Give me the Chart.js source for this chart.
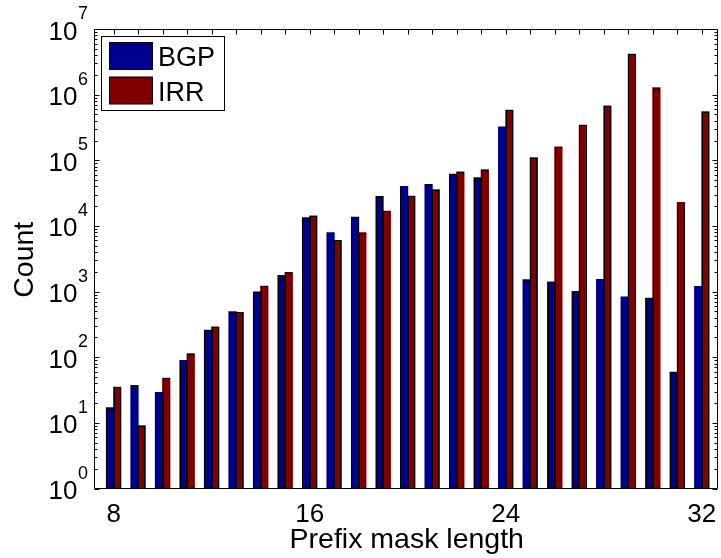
<!DOCTYPE html>
<html><head><meta charset="utf-8">
<script src="https://cdn.jsdelivr.net/npm/chart.js@4/dist/chart.umd.min.js"></script>
<style>html,body{margin:0;padding:0;background:#fff;}#wrap{width:721px;height:558px;}</style>
</head><body><div id="wrap"><canvas id="c" width="721" height="558"></canvas></div>
<script>
const prefixLengths = [8,9,10,11,12,13,14,15,16,17,18,19,20,21,22,23,24,25,26,27,28,29,30,31,32];
const bgpCounts = [17,37,29,89,258,492,988,1750,13300,7900,13500,28100,39800,42900,61500,54300,322000,1510,1400,1000,1530,830,790,59,1190];
const irrCounts = [35,9,48,113,288,480,1210,1960,14200,6000,7900,16700,28400,35600,66300,71500,578000,109000,160000,343000,671000,4130000,1270000,22700,551000];
const xTickLabels = [8,16,24,32];
const yDecades = [0,1,2,3,4,5,6,7];
const seriesNames = ['BGP','IRR'];
const seriesColors = ['#00008f','#800000'];
const xTitle = 'Prefix mask length';
const yTitle = 'Count';

const FONT = '"Liberation Sans", Arial, Helvetica, sans-serif';

const axesPlugin = {
  id: 'matlabAxes',
  afterDatasetsDraw(chart) {
    const ctx = chart.ctx;
    const xs = chart.scales.x, ys = chart.scales.y;
    const a = chart.chartArea;
    const L = Math.round(a.left) + 0.5, R = Math.round(a.right) - 0.5;
    const T = Math.round(a.top) + 0.5, B = Math.round(a.bottom) - 0.5;
    ctx.save();
    ctx.strokeStyle = '#000';
    ctx.lineWidth = 1;
    // crisp bar outlines, from the library's own bar elements
    ctx.beginPath();
    chart.data.datasets.forEach((ds, di) => {
      chart.getDatasetMeta(di).data.forEach(el => {
        const p = el.getProps(['x', 'y', 'width'], true);
        const l = Math.round(p.x - p.width / 2) + 0.5;
        const r = Math.round(p.x + p.width / 2) - 0.5;
        const t = Math.round(p.y) + 0.5;
        ctx.moveTo(l, B); ctx.lineTo(l, t); ctx.lineTo(r, t); ctx.lineTo(r, B);
      });
    });
    ctx.stroke();
    // axes box
    ctx.beginPath();
    ctx.rect(L, T, R - L, B - T);
    ctx.stroke();
    ctx.beginPath();
    prefixLengths.forEach(v => {
      const px = Math.round(xs.getPixelForValue(v)) + 0.5;
      ctx.moveTo(px, B); ctx.lineTo(px, B - 5);
      ctx.moveTo(px, T); ctx.lineTo(px, T + 5);
    });
    yDecades.forEach(d => {
      const py = Math.round(ys.getPixelForValue(Math.pow(10, d))) + 0.5;
      ctx.moveTo(L, py); ctx.lineTo(L + 5, py);
      ctx.moveTo(R, py); ctx.lineTo(R - 5, py);
      if (d < 7) {
        for (let m = 2; m <= 9; m++) {
          const pm = Math.round(ys.getPixelForValue(m * Math.pow(10, d))) + 0.5;
          ctx.moveTo(L, pm); ctx.lineTo(L + 3, pm);
          ctx.moveTo(R, pm); ctx.lineTo(R - 3, pm);
        }
      }
    });
    ctx.stroke();

    ctx.fillStyle = '#000';
    ctx.font = '26px ' + FONT;
    ctx.textAlign = 'center';
    ctx.textBaseline = 'alphabetic';
    xTickLabels.forEach(v => {
      ctx.fillText(String(v), xs.getPixelForValue(v), a.bottom + 33);
    });
    yDecades.forEach(d => {
      const py = ys.getPixelForValue(Math.pow(10, d));
      ctx.font = '26px ' + FONT;
      ctx.textAlign = 'right';
      ctx.fillText('10', a.left - 16.5, py + 10.5);
      ctx.font = '18px ' + FONT;
      ctx.textAlign = 'left';
      ctx.fillText(String(d), a.left - 16, py - 10);
    });
    ctx.font = '28.5px ' + FONT;
    ctx.textAlign = 'center';
    ctx.fillText(xTitle, (a.left + a.right) / 2 + 1, a.bottom + 59);
    ctx.save();
    ctx.translate(33, (a.top + a.bottom) / 2 + 1);
    ctx.rotate(-Math.PI / 2);
    ctx.fillText(yTitle, 0, 0);
    ctx.restore();

    const lx = 101.5, ly = 36.5, lw = 123, lh = 74;
    ctx.fillStyle = '#fff';
    ctx.fillRect(lx, ly, lw, lh);
    ctx.strokeRect(lx, ly, lw, lh);
    chart.data.datasets.forEach((ds, i) => {
      const sy = 42.5 + i * 34.5;
      ctx.fillStyle = ds.backgroundColor;
      ctx.fillRect(109.5, sy, 43, 27);
      ctx.strokeStyle = '#000';
      ctx.strokeRect(109.5, sy, 43, 27);
      ctx.fillStyle = '#000';
      ctx.font = '27px ' + FONT;
      ctx.textAlign = 'left';
      ctx.fillText(ds.label, 158, sy + 23.5);
    });
    ctx.restore();
  }
};

new Chart(document.getElementById('c'), {
  type: 'bar',
  data: {
    datasets: [
      { label: seriesNames[0], data: prefixLengths.map((x, i) => ({x, y: bgpCounts[i]})),
        backgroundColor: seriesColors[0], borderWidth: 0, inflateAmount: 0.5 },
      { label: seriesNames[1], data: prefixLengths.map((x, i) => ({x, y: irrCounts[i]})),
        backgroundColor: seriesColors[1], borderWidth: 0, inflateAmount: 0.5 }
    ]
  },
  options: {
    responsive: false,
    devicePixelRatio: 1,
    animation: false,
    layout: { padding: { left: 94, right: 3.5, top: 29, bottom: 69.5 } },
    datasets: { bar: { categoryPercentage: 0.59, barPercentage: 1, grouped: true } },
    plugins: { legend: { display: false }, tooltip: { enabled: false }, title: { display: false } },
    scales: {
      x: { type: 'linear', min: 7.2, max: 32.64, display: false, offset: false,
           afterBuildTicks: (s) => { s.ticks = prefixLengths.map(v => ({ value: v })); } },
      y: { type: 'logarithmic', min: 1, max: 1e7, display: false }
    }
  },
  plugins: [axesPlugin]
});
</script>
</body></html>
